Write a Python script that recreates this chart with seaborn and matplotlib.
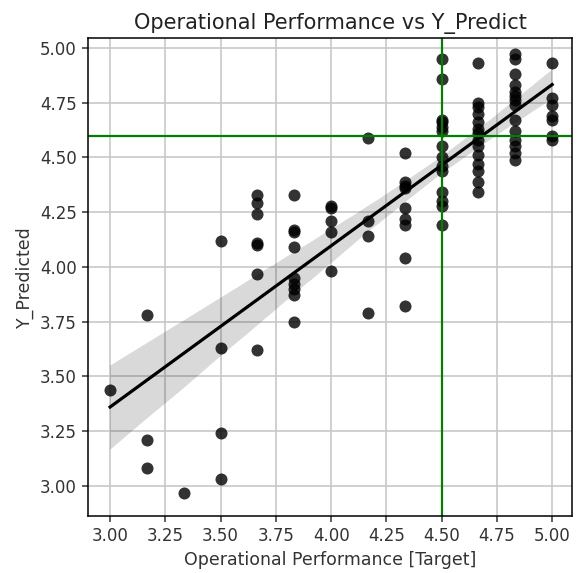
import numpy as np
import pandas as pd
import matplotlib
matplotlib.use("Agg")
import matplotlib.pyplot as plt
import seaborn as sns

# Operational performance score (target) and model prediction per respondent
perf_levels = [3.0, 3.1667, 3.3333, 3.5, 3.6667, 3.8333, 4.0,
               4.1667, 4.3333, 4.5, 4.6667, 4.8333, 5.0]
pred_3_00 = [3.44]
pred_3_17 = [3.78, 3.21, 3.08]
pred_3_33 = [2.97]
pred_3_50 = [4.12, 3.63, 3.24, 3.03]
pred_3_67 = [4.33, 4.29, 4.24, 4.11, 4.10, 3.97, 3.62]
pred_3_83 = [4.33, 4.17, 4.16, 4.09, 3.95, 3.92, 3.90, 3.87, 3.75]
pred_4_00 = [4.28, 4.27, 4.21, 4.16, 3.98]
pred_4_17 = [4.59, 4.21, 4.14, 3.79]
pred_4_33 = [4.52, 4.39, 4.37, 4.36, 4.27, 4.22, 4.19, 4.04, 3.82]
pred_4_50 = [4.95, 4.86, 4.67, 4.66, 4.64, 4.62, 4.55, 4.50, 4.46, 4.44,
             4.34, 4.30, 4.28, 4.19]
pred_4_67 = [4.93, 4.75, 4.73, 4.70, 4.66, 4.63, 4.61, 4.58, 4.55, 4.51,
             4.47, 4.44, 4.39, 4.34]
pred_4_83 = [4.97, 4.95, 4.88, 4.83, 4.80, 4.78, 4.76, 4.74, 4.67, 4.62,
             4.58, 4.55, 4.52, 4.49]
pred_5_00 = [4.93, 4.77, 4.74, 4.69, 4.67, 4.60, 4.58]

pred_groups = [pred_3_00, pred_3_17, pred_3_33, pred_3_50, pred_3_67,
               pred_3_83, pred_4_00, pred_4_17, pred_4_33, pred_4_50,
               pred_4_67, pred_4_83, pred_5_00]

target_x = 4.5
target_y = 4.6

rows = [(lvl, p) for lvl, grp in zip(perf_levels, pred_groups) for p in grp]
df = pd.DataFrame(rows, columns=["Operational Performance [Target]", "Y_Predicted"])

fig = plt.figure(figsize=(5.79, 5.73), dpi=100)
ax = fig.add_axes([0.152, 0.0995, 0.836, 0.8345])

sns.regplot(data=df, x="Operational Performance [Target]", y="Y_Predicted",
            ax=ax, color="black", ci=95, seed=0,
            scatter_kws={"s": 75, "alpha": 0.8, "linewidths": 0},
            line_kws={"color": "black", "linewidth": 2.3})

ax.axvline(target_x, color="green", linewidth=1.6)
ax.axhline(target_y, color="green", linewidth=1.6)

ax.set_xlim(2.90, 5.09)
ax.set_ylim(2.863, 5.046)
ax.set_xticks(np.arange(3.0, 5.01, 0.25))
ax.set_yticks(np.arange(3.0, 5.01, 0.25))
ax.xaxis.set_major_formatter(matplotlib.ticker.FormatStrFormatter("%.2f"))
ax.yaxis.set_major_formatter(matplotlib.ticker.FormatStrFormatter("%.2f"))
ax.grid(True, color="#c8c8c8", linewidth=1.2)
ax.set_axisbelow(True)
for s in ax.spines.values():
    s.set_linewidth(1.1)
ax.tick_params(labelsize=12, colors="#333333", length=4.5, width=1.1)
ax.set_title("Operational Performance vs Y_Predict", fontsize=15, color="#222222")
ax.set_xlabel("Operational Performance [Target]", fontsize=12.5, color="#333333")
ax.set_ylabel("Y_Predicted", fontsize=12.5, color="#333333")

fig.savefig("out.png", dpi=100)
